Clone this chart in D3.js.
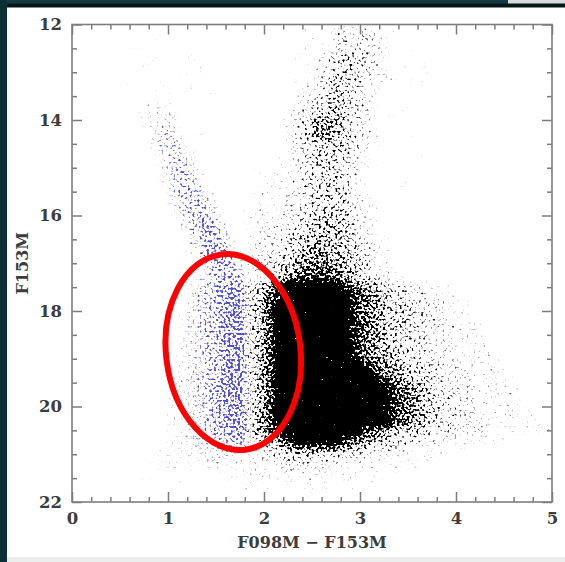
<!DOCTYPE html>
<html><head><meta charset="utf-8">
<script src="https://cdn.jsdelivr.net/npm/d3@7/dist/d3.min.js"></script>
<style>html,body{margin:0;padding:0;background:#fff;}svg{display:block;}</style>
</head><body>
<script>
// ---- data ----
// density grid: column j = colour bin [0.1j, 0.1j+0.1], row i = magnitude bin [12+0.2i, 12.2+0.2i]
const colorBinStart = 0, colorBinWidth = 0.1;
const magBinStart = 12, magBinWidth = 0.2;
// black (field / bulge) star density levels 0-9
const blackRows = [
"0000000000 0000000000 0000100222 2101000000 0000000000",
"0000000000 0000000000 0000010233 3210000000 0000000000",
"0000000000 0000000000 0000101233 3210010000 0000000000",
"0000000000 0000000000 0001012343 3210000000 0000000000",
"0000000000 0000000000 0000112344 3210101000 0000000000",
"0000000000 0000000000 0010123443 2211000000 0000000000",
"0000000000 0000000000 0001123443 2100011000 0000000000",
"0000000000 0000000000 0001234443 2100000000 0000000000",
"0000000000 0000000000 0001234543 2100100000 0000000000",
"0000000000 0000000000 0012345543 2101000000 0000000000",
"0000000000 0000000000 0012466543 2100000000 0000000000",
"0000000000 0000000000 0012466543 2100010000 0000000000",
"0000000000 0000000000 0012345543 2100000000 0000000000",
"0000000000 0000000000 1012344432 1000001000 0000000000",
"0000000000 0000000000 0112344432 1010000000 0000000000",
"0000000000 0000000001 0112344432 1000000000 0000000000",
"0000000000 0000000000 1112344432 1000100000 0000000000",
"0000000000 0000000001 1122344432 1000000000 0000000000",
"0000000000 0000000001 1122344442 1100000000 0000000000",
"0000000000 0000000011 1122344442 1100000000 0000000000",
"0000000000 0000000011 1223445543 2100000000 0000000000",
"0000000000 0000000011 2233455543 2100000000 0000000000",
"0000000000 0000000012 2334555543 2110000000 0000000000",
"0000000000 0000000012 2344565554 3210000000 0000000000",
"0000000000 0000000012 3345666554 3210000000 0000000000",
"0000000000 0000000012 3456777655 3211000000 0000000000",
"0000000000 0000000012 3467888765 4321100000 0000000000",
"0000000000 0011111134 6899999987 6543322111 0000000000",
"0000000000 0011111134 7899999998 7654332221 1000000000",
"0000000000 0011111135 7999999998 7654433221 1100000000",
"0000000000 0011111135 7999999998 7654433221 1100000000",
"0000000000 0011111135 7999999998 7654433222 1110000000",
"0000000000 0011111135 7999999998 7654433222 1110000000",
"0000000000 0111111135 7999999998 7654433222 1111000000",
"0000000000 0111111135 7999999998 7654433222 1111000000",
"0000000000 0111111135 7999999999 8765443322 2111100000",
"0000000000 1111111135 7999999999 9876544332 2211100000",
"0000000000 1111111135 7999999999 9987654332 2211110000",
"0000000000 1111111135 7999999999 9998765433 2211111000",
"0000000000 1111111135 7999999999 9998765433 2211111000",
"0000000000 1111111135 7999999999 9998765433 2211111100",
"0000000000 1111111135 7999999999 9998765433 2221111110",
"0000000000 1111111135 7899999999 8765544333 2221111111",
"0000000000 1011111124 5689999987 6544332221 1111100000",
"0000000000 1011111122 3456666654 4332211110 1000000000",
"0000000000 0001111112 2233333322 2111111100 0000000000",
"0000000000 0000110111 1122222111 1101010000 0000000000",
"0000000000 0000001011 1111111011 0100000000 0000000000",
"0000000000 0000000010 1010101001 0000000000 0000000000",
"0000000000 0000000000 0000100000 0000000000 0000000000"
];
// blue (foreground) star density levels 0-9
const blueRows = [
"0000000000 0000000000 0000000000 0000000000 0000000000",
"0000000010 0000000000 0000000000 0000000000 0000000000",
"0000001000 0000000000 0000000000 0000000000 0000000000",
"0000000010 0010000000 0000000000 0000000000 0000000000",
"0000000100 0001000000 0000000000 0000000000 0000000000",
"0000000000 0100000000 0000000000 0000000000 0000000000",
"0000010001 0010000000 0000000000 0000000000 0000000000",
"0000000010 1000100000 0000000000 0000000000 0000000000",
"0000000111 1000000000 0000000000 0000000000 0000000000",
"0000000122 2000000000 0000000000 0000000000 0000000000",
"0000000122 2000000000 0000000000 0000000000 0000000000",
"0000000023 3101000000 0000000000 0000000000 0000000000",
"0000000023 3200000000 0000000000 0000000000 0000000000",
"0000000012 3310000000 0000000000 0000000000 0000000000",
"0000000002 3320000000 0000000000 0000000000 0000000000",
"0000000001 3431000000 0000000000 0000000000 0000000000",
"0000000001 3431000000 0000000000 0000000000 0000000000",
"0000000000 2443100000 0000000000 0000000000 0000000000",
"0000000000 2344200000 0000000000 0000000000 0000000000",
"0000000000 1344310000 0000000000 0000000000 0000000000",
"0000000000 0245420000 0000000000 0000000000 0000000000",
"0000000000 0135531000 0000000000 0000000000 0000000000",
"0000000000 0034542000 0000000000 0000000000 0000000000",
"0000000000 0024553000 0000000000 0000000000 0000000000",
"0000000000 0003554200 0000000000 0000000000 0000000000",
"0000000000 0002455300 0000000000 0000000000 0000000000",
"0000000000 0002455400 0000000000 0000000000 0000000000",
"0000000000 0012456510 0000000000 0000000000 0000000000",
"0000000000 0123456620 0000000000 0000000000 0000000000",
"0000000000 0123456620 0000000000 0000000000 0000000000",
"0000000000 0123456620 0000000000 0000000000 0000000000",
"0000000000 0123456620 0000000000 0000000000 0000000000",
"0000000000 0123456620 0000000000 0000000000 0000000000",
"0000000000 0123456620 0000000000 0000000000 0000000000",
"0000000000 0123456620 0000000000 0000000000 0000000000",
"0000000000 0123456620 0000000000 0000000000 0000000000",
"0000000000 0123456620 0000000000 0000000000 0000000000",
"0000000000 0123456620 0000000000 0000000000 0000000000",
"0000000000 0123456620 0000000000 0000000000 0000000000",
"0000000000 0123456620 0000000000 0000000000 0000000000",
"0000000000 0123456620 0000000000 0000000000 0000000000",
"0000000000 0123456620 0000000000 0000000000 0000000000",
"0000000000 0123455620 0000000000 0000000000 0000000000",
"0000000000 1123344510 0000000000 0000000000 0000000000",
"0000000001 1112233320 0000000000 0000000000 0000000000",
"0000001011 1111221000 0000000000 0000000000 0000000000",
"0000000001 1010101000 0000000000 0000000000 0000000000",
"0000000100 0100000000 0000000000 0000000000 0000000000",
"0000000000 0000000000 0000000000 0000000000 0000000000",
"0000000000 0000000000 0000000000 0000000000 0000000000"
];
// axes
const xDomain = [0, 5];
const yDomain = [12, 22];
const xMajorTicks = [0, 1, 2, 3, 4, 5];
const yMajorTicks = [12, 14, 16, 18, 20, 22];
const xMinorStep = 0.2;
const yMinorStep = 0.5;
const xLabel = "F098M \u2212 F153M";
const yLabel = "F153M";
// annotation ellipse in data units: centre colour, centre magnitude, half-widths, tilt (deg)
const ellipseCenter = [1.68, 18.86];
const ellipseHalfAxes = [0.70, 2.06];
const ellipseTilt = -7;

// ---- drawing ----
const W = 565, H = 562;
const svg = d3.select("body").append("svg").attr("width", W).attr("height", H);

// screenshot frame
svg.append("rect").attr("x",0).attr("y",0).attr("width",W).attr("height",7.5).attr("fill","#06171b");
svg.append("rect").attr("x",0).attr("y",0).attr("width",508).attr("height",3.5).attr("fill","#143a42");
svg.append("rect").attr("x",508).attr("y",0).attr("width",W-508).attr("height",3.5).attr("fill","#d9dcdc");
svg.append("rect").attr("x",0).attr("y",0).attr("width",7).attr("height",H).attr("fill","#0d2f36");
svg.append("rect").attr("x",7).attr("y",557).attr("width",W-7).attr("height",5).attr("fill","#eceeee");

const x = d3.scaleLinear().domain(xDomain).range([72, 552]);
const y = d3.scaleLinear().domain(yDomain).range([24.5, 502]);

const defs = svg.append("defs");
defs.append("clipPath").attr("id","plotclip").append("rect")
  .attr("x", x(0)).attr("y", y(12)).attr("width", x(5)-x(0)).attr("height", y(22)-y(12));

// rendering filter: smooth the density grid and give it a stippled, point-cloud texture
function stippleFilter(id, color, seed) {
  const f = defs.append("filter").attr("id", id)
    .attr("filterUnits","userSpaceOnUse").attr("x",0).attr("y",0).attr("width",W).attr("height",H)
    .attr("color-interpolation-filters","sRGB");
  f.append("feGaussianBlur").attr("in","SourceAlpha").attr("stdDeviation",2.5).attr("result","dens");
  f.append("feTurbulence").attr("type","fractalNoise").attr("baseFrequency",0.42)
    .attr("numOctaves",1).attr("seed",seed).attr("result","turb");
  f.append("feColorMatrix").attr("in","turb").attr("type","matrix")
    .attr("values","0 0 0 0 0  0 0 0 0 0  0 0 0 0 0  1 0 0 0 0").attr("result","noise");
  f.append("feComposite").attr("in","dens").attr("in2","noise").attr("operator","arithmetic")
    .attr("k1",0).attr("k2",2.5).attr("k3",5).attr("k4",-3.55).attr("result","mask0");
  f.append("feGaussianBlur").attr("in","mask0").attr("stdDeviation",0.4).attr("result","mask1");
  f.append("feComposite").attr("in","mask1").attr("in2","dens").attr("operator","arithmetic")
    .attr("k1",5).attr("k2",0).attr("k3",0).attr("k4",0).attr("result","mask");
  f.append("feFlood").attr("flood-color", color).attr("result","col");
  f.append("feComposite").attr("in","col").attr("in2","mask").attr("operator","in");
}
stippleFilter("stipK", "#000000", 7);
stippleFilter("stipB", "#5050d0", 23);

function cells(rows) {
  const out = [];
  rows.forEach((r, i) => {
    r.replace(/ /g, "").split("").forEach((ch, j) => {
      const v = +ch;
      if (v > 0) out.push({c0: colorBinStart + j*colorBinWidth, m0: magBinStart + i*magBinWidth, v});
    });
  });
  return out;
}
const levelDensity = [0, .12, .19, .25, .31, .38, .45, .53, .63, 1];

const plot = svg.append("g").attr("clip-path","url(#plotclip)");
function layer(data, filterId) {
  plot.append("g").attr("filter",`url(#${filterId})`)
    .selectAll("rect").data(data).join("rect")
    .attr("x", d => x(d.c0))
    .attr("y", d => y(d.m0))
    .attr("width", d => x(d.c0 + colorBinWidth) - x(d.c0))
    .attr("height", d => y(d.m0 + magBinWidth) - y(d.m0))
    .attr("fill", "#000")
    .attr("fill-opacity", d => levelDensity[d.v])
    .attr("shape-rendering","crispEdges");
}
layer(cells(blackRows), "stipK");
layer(cells(blueRows), "stipB");

// ellipse annotation
const ecx = x(ellipseCenter[0]), ecy = y(ellipseCenter[1]);
svg.append("ellipse")
  .attr("cx", ecx).attr("cy", ecy)
  .attr("rx", x(ellipseCenter[0] + ellipseHalfAxes[0]) - ecx)
  .attr("ry", y(ellipseCenter[1] + ellipseHalfAxes[1]) - ecy)
  .attr("transform", `rotate(${ellipseTilt},${ecx},${ecy})`)
  .attr("fill","none").attr("stroke","#ff0000").attr("stroke-width",6);

// axes
const axisColor = "#7d7d7d";
const range = (a, b, s) => d3.range(Math.round((b - a)/s) + 1).map(k => +(a + k*s).toFixed(3));
const xMinor = range(xDomain[0], xDomain[1], xMinorStep).filter(v => !xMajorTicks.includes(v));
const yMinor = range(yDomain[0], yDomain[1], yMinorStep).filter(v => !yMajorTicks.includes(v));

function styleAxis(g) {
  g.select(".domain").remove();
  g.selectAll("line").attr("stroke", axisColor).attr("stroke-width", 1.5);
  g.selectAll("text").attr("font-family","'DejaVu Serif', serif").attr("font-size", 16.5)
    .attr("fill","#3c3c3c").attr("font-weight","bold");
}
const x0 = x(0), x1 = x(5), y0 = y(12), y1 = y(22);
svg.append("g").attr("transform",`translate(0,${y1})`)
  .call(d3.axisBottom(x).tickValues(xMinor).tickSize(-5).tickFormat("")).call(styleAxis);
svg.append("g").attr("transform",`translate(0,${y1})`)
  .call(d3.axisBottom(x).tickValues(xMajorTicks).tickSize(-10).tickPadding(10).tickFormat(d3.format("d"))).call(styleAxis);
svg.append("g").attr("transform",`translate(0,${y0})`)
  .call(d3.axisTop(x).tickValues(xMinor).tickSize(-5).tickFormat("")).call(styleAxis);
svg.append("g").attr("transform",`translate(0,${y0})`)
  .call(d3.axisTop(x).tickValues(xMajorTicks).tickSize(-10).tickFormat("")).call(styleAxis);
svg.append("g").attr("transform",`translate(${x0},0)`)
  .call(d3.axisLeft(y).tickValues(yMinor).tickSize(-5).tickFormat("")).call(styleAxis);
svg.append("g").attr("transform",`translate(${x0},0)`)
  .call(d3.axisLeft(y).tickValues(yMajorTicks).tickSize(-10).tickPadding(10).tickFormat(d3.format("d"))).call(styleAxis);
svg.append("g").attr("transform",`translate(${x1},0)`)
  .call(d3.axisRight(y).tickValues(yMinor).tickSize(-5).tickFormat("")).call(styleAxis);
svg.append("g").attr("transform",`translate(${x1},0)`)
  .call(d3.axisRight(y).tickValues(yMajorTicks).tickSize(-10).tickFormat("")).call(styleAxis);
svg.append("rect").attr("x", x0).attr("y", y0).attr("width", x1 - x0).attr("height", y1 - y0)
  .attr("fill","none").attr("stroke", axisColor).attr("stroke-width", 1.6);

// axis titles
svg.append("text").attr("x", (x0 + x1)/2).attr("y", 548).attr("text-anchor","middle")
  .attr("font-family","'DejaVu Serif', serif").attr("font-size",16).attr("font-weight","bold")
  .attr("fill","#3c3c3c").text(xLabel);
svg.append("text").attr("transform",`translate(28,${(y0 + y1)/2}) rotate(-90)`).attr("text-anchor","middle")
  .attr("font-family","'DejaVu Serif', serif").attr("font-size",16).attr("font-weight","bold")
  .attr("fill","#3c3c3c").text(yLabel);
</script>
</body></html>
